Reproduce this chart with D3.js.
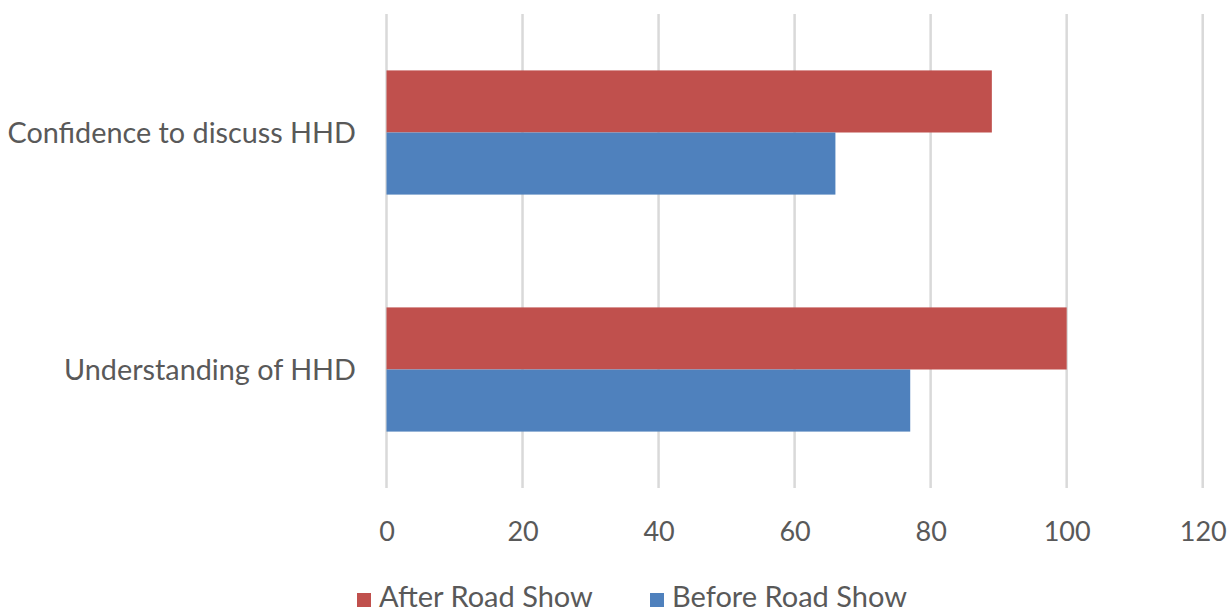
<!DOCTYPE html>
<html>
<head>
<meta charset="utf-8">
<script src="https://cdn.jsdelivr.net/npm/d3@7"></script>
<style>
  body { margin: 0; background: #fff; }
  text { font-family: Lato, "Open Sans", sans-serif; fill: #595959; }
</style>
</head>
<body>
<script>
var width = 1231;
var height = 613;

// categories top to bottom
var categories = ["Confidence to discuss HHD", "Understanding of HHD"];
var seriesNames = ["After Road Show", "Before Road Show"];
var seriesColors = ["#C0504D", "#4F81BD"];
var afterValues = [89, 100];
var beforeValues = [66, 77];
var xTicks = [0, 20, 40, 60, 80, 100, 120];

var svg = d3.select("body").append("svg")
    .attr("width", width)
    .attr("height", height);

var x = d3.scaleLinear().domain([0, 120]).range([386.5, 1202.7]);
var y = d3.scaleBand().domain(categories).range([14, 488]).paddingInner(0.476).paddingOuter(0.238);
var ySub = d3.scaleBand().domain(seriesNames).range([0, y.bandwidth()]);

// gridlines
svg.append("g")
  .selectAll("line")
  .data(xTicks)
  .enter().append("line")
    .attr("x1", function(d) { return x(d); })
    .attr("x2", function(d) { return x(d); })
    .attr("y1", 14)
    .attr("y2", 488)
    .attr("stroke", "#d9d9d9")
    .attr("stroke-width", 2.5);

// bars
var rows = categories.map(function(c, i) {
  return { cat: c, vals: [afterValues[i], beforeValues[i]] };
});

var grp = svg.append("g").selectAll("g")
  .data(rows)
  .enter().append("g")
    .attr("transform", function(d) { return "translate(0," + y(d.cat) + ")"; });

grp.selectAll("rect")
  .data(function(d) { return d.vals.map(function(v, j) { return { s: seriesNames[j], v: v, c: seriesColors[j] }; }); })
  .enter().append("rect")
    .attr("x", x(0))
    .attr("y", function(d) { return ySub(d.s); })
    .attr("width", function(d) { return x(d.v) - x(0); })
    .attr("height", ySub.bandwidth())
    .attr("fill", function(d) { return d.c; });

// category labels
svg.append("g").selectAll("text")
  .data(categories)
  .enter().append("text")
    .attr("x", 356)
    .attr("y", function(d) { return y(d) + y.bandwidth() / 2 + 10; })
    .attr("text-anchor", "end")
    .attr("font-size", 28.8)
    .text(function(d) { return d; });

// x tick labels
var xAxis = d3.axisBottom(x).tickValues(xTicks).tickSize(0).tickPadding(0);
var ax = svg.append("g")
    .attr("transform", "translate(0,522)")
    .call(xAxis);
ax.select(".domain").remove();
ax.selectAll("text")
    .attr("font-size", 27)
    .attr("dy", 0)
    .attr("y", 19);

// legend
var legendX = [357, 650];
var leg = svg.append("g").selectAll("g")
  .data(seriesNames)
  .enter().append("g")
    .attr("transform", function(d, i) { return "translate(" + legendX[i] + ",0)"; });
leg.append("rect")
    .attr("x", 0)
    .attr("y", 593)
    .attr("width", 14)
    .attr("height", 14)
    .attr("fill", function(d, i) { return seriesColors[i]; });
leg.append("text")
    .attr("x", 22)
    .attr("y", 607)
    .attr("font-size", 29)
    .text(function(d) { return d; });
</script>
</body>
</html>
